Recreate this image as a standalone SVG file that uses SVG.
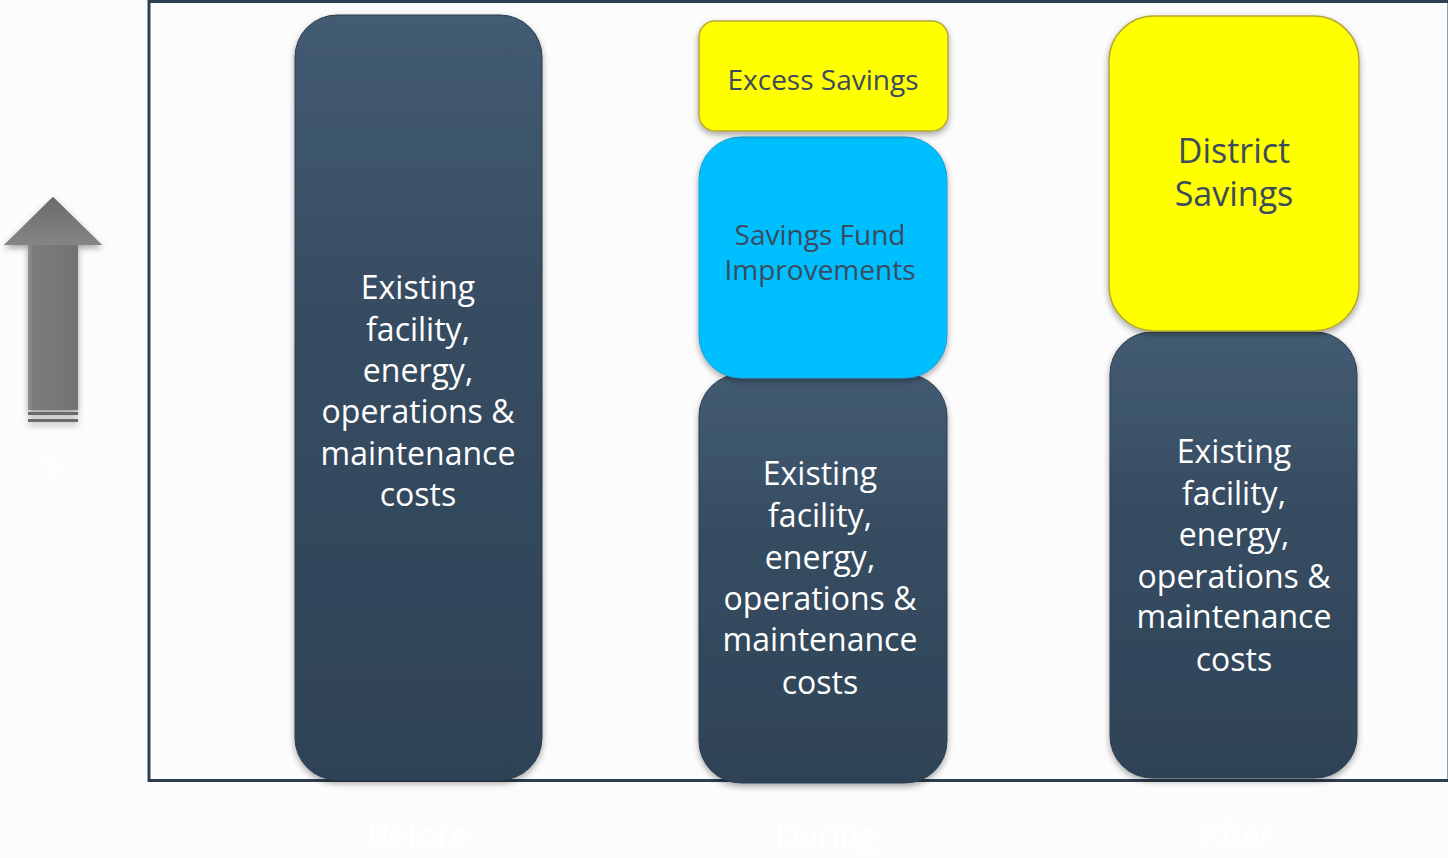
<svg xmlns="http://www.w3.org/2000/svg" width="1448" height="858" viewBox="0 0 1448 858">
<defs>
<linearGradient id="gDark" x1="0" y1="0" x2="0" y2="1">
<stop offset="0" stop-color="#435b72"/>
<stop offset="0.4" stop-color="#364c61"/>
<stop offset="1" stop-color="#2f4357"/>
</linearGradient>
<linearGradient id="gArrow" x1="0" y1="0" x2="1" y2="0">
<stop offset="0" stop-color="#8a8a8a"/>
<stop offset="0.12" stop-color="#c0c0c0"/>
<stop offset="0.3" stop-color="#7c7c7c"/>
<stop offset="0.85" stop-color="#707070"/>
<stop offset="1" stop-color="#8a8a8a"/>
</linearGradient>
<linearGradient id="gHead" x1="0" y1="0" x2="0" y2="1">
<stop offset="0" stop-color="#6a6a6a"/>
<stop offset="1" stop-color="#858585"/>
</linearGradient>
<filter id="sh" x="-10%" y="-10%" width="120%" height="120%">
<feDropShadow dx="0" dy="3" stdDeviation="3" flood-color="#000" flood-opacity="0.35"/>
</filter>
</defs>
<style>
.dark{fill:url(#gDark);stroke:#2b3d4f;stroke-width:1}
.yel{fill:#ffff00;stroke:#b5a832;stroke-width:1.5}
.cyan{fill:#00bfff;stroke:#1a9fd6;stroke-width:1}
.wt{font-family:"Open Sans","Noto Sans",sans-serif;fill:#ffffff;font-size:32px;text-anchor:middle}
.dt{font-family:"Open Sans","Noto Sans",sans-serif;fill:#3b4b5e;text-anchor:middle}
.lbl{font-family:"Open Sans","Noto Sans",sans-serif;fill:#ffffff;font-size:32px;text-anchor:middle}
</style>
<rect width="1448" height="858" fill="#fcfcfc"/>
<rect x="149" y="1.5" width="1300" height="779" fill="#fcfcfc" stroke="#2c3e50" stroke-width="3"/>

<g id="axis-arrow">
<g filter="url(#sh)">
<path d="M53,197 L102,245 L78,245 L78,410 L28,410 L28,245 L4,245 Z" fill="url(#gArrow)"/>
<path d="M53,197 L102,245 L4,245 Z" fill="url(#gHead)"/>
<rect x="28" y="412" width="50" height="3" fill="#6a6a6a"/>
<rect x="28" y="419" width="50" height="3" fill="#6a6a6a"/>
</g>
<text x="53" y="478" class="lbl" font-size="40">$</text>
</g>

<g id="before-bar">
<rect x="295" y="15" width="247" height="765" rx="42" class="dark" filter="url(#sh)"/>
<text class="wt"><tspan x="418" y="299">Existing</tspan><tspan x="418" y="341">facility,</tspan><tspan x="418" y="382">energy,</tspan><tspan x="418" y="423">operations &amp;</tspan><tspan x="418" y="465">maintenance</tspan><tspan x="418" y="506">costs</tspan></text>
</g>

<g id="during-costs">
<rect x="699" y="374" width="248" height="409" rx="42" class="dark" filter="url(#sh)"/>
<text class="wt"><tspan x="820" y="485">Existing</tspan><tspan x="820" y="527">facility,</tspan><tspan x="820" y="569">energy,</tspan><tspan x="820" y="610">operations &amp;</tspan><tspan x="820" y="651">maintenance</tspan><tspan x="820" y="694">costs</tspan></text>
</g>

<g id="during-fund">
<rect x="699" y="137" width="248" height="241" rx="42" class="cyan" filter="url(#sh)"/>
<text class="dt" font-size="28"><tspan x="820" y="245">Savings Fund</tspan><tspan x="820" y="280">Improvements</tspan></text>
</g>

<g id="during-excess">
<rect x="699" y="21" width="249" height="110" rx="16" class="yel" filter="url(#sh)"/>
<text x="823" y="90" class="dt" font-size="28">Excess Savings</text>
</g>

<g id="after-costs">
<rect x="1110" y="332" width="247" height="446" rx="42" class="dark" filter="url(#sh)"/>
<text class="wt"><tspan x="1234" y="463">Existing</tspan><tspan x="1234" y="505">facility,</tspan><tspan x="1234" y="546">energy,</tspan><tspan x="1234" y="588">operations &amp;</tspan><tspan x="1234" y="628">maintenance</tspan><tspan x="1234" y="671">costs</tspan></text>
</g>

<g id="after-savings">
<rect x="1109" y="16" width="250" height="315" rx="45" class="yel" filter="url(#sh)"/>
<text class="dt" font-size="34"><tspan x="1234" y="163">District</tspan><tspan x="1234" y="206">Savings</tspan></text>
</g>

<g id="labels">
<text x="418" y="847" class="lbl">Before</text>
<text x="826" y="847" class="lbl">During</text>
<text x="1236" y="847" class="lbl">After</text>
</g>
<g id="connectors"/>
</svg>
